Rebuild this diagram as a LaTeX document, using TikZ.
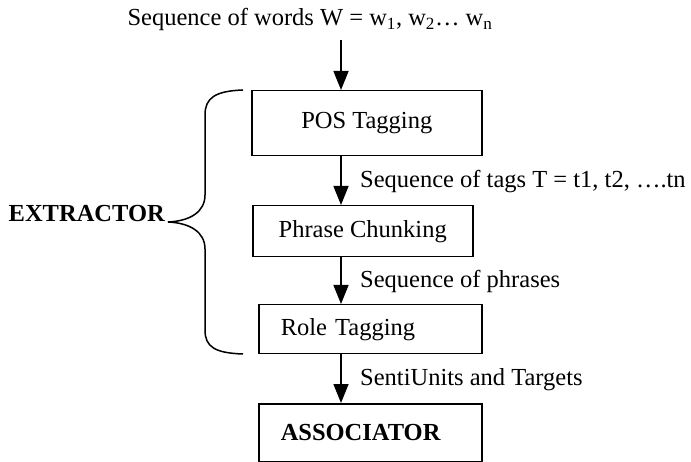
\documentclass[tikz,border=0pt]{standalone}
\usepackage{fontspec}
\setmainfont{Liberation Serif}
\usetikzlibrary{arrows.meta}
\begin{document}
\begin{tikzpicture}[x=1pt,y=-1pt,
  every node/.style={font=\fontsize{24.5}{28}\selectfont, inner sep=0pt},
  box/.style={draw, line width=1.5pt, anchor=north west, inner sep=0pt},
  arr/.style={line width=1.5pt, -{Triangle[length=19pt,width=15pt]}},
  lbl/.style={anchor=base west}]
\useasboundingbox (0,0) rectangle (691,462);
\coordinate (axis) at (341,0);
\node[anchor=base] (top) at (310,26) {Sequence of words W = w\textsubscript{1}, w\textsubscript{2}… w\textsubscript{n}};
\node[box, minimum width=230, minimum height=65] (pos) at (251,90) {POS Tagging};
\node[box, minimum width=220, minimum height=51] (phr) at (252,205) {Phrase Chunking};
\node[box, minimum height=49, text width=179, inner xsep=22pt, align=left] (role) at (258,304) {Role Tagging};
\node[box, minimum height=58, text width=179, inner xsep=22pt, align=left] (assoc) at (258,403) {\bfseries ASSOCIATOR};
\coordinate (start) at (341,40);
\draw[arr] (start) -- (pos.north -| axis);
\draw[arr] (pos.south -| axis) -- (phr.north -| axis);
\draw[arr] (phr.south -| axis) -- (role.north -| axis);
\draw[arr] (role.south -| axis) -- (assoc.north -| axis);
\node[lbl] (l1) at (360,188) {Sequence of tags T = t1, t2, ….tn};
\node[lbl] (l2) at (360,288) {Sequence of phrases};
\node[lbl] (l3) at (360,385) {SentiUnits and Targets};
\node[anchor=base east] (ext) at (165,222) {\bfseries EXTRACTOR};
\draw[line width=1.5pt] (243,90) .. controls (215,91) and (205,98) .. (205,115)
  -- (205,195) .. controls (205,212) and (190,221) .. (168,222)
  .. controls (190,223) and (205,232) .. (205,249)
  -- (205,330) .. controls (205,347) and (215,353) .. (243,354);
\end{tikzpicture}
\end{document}
